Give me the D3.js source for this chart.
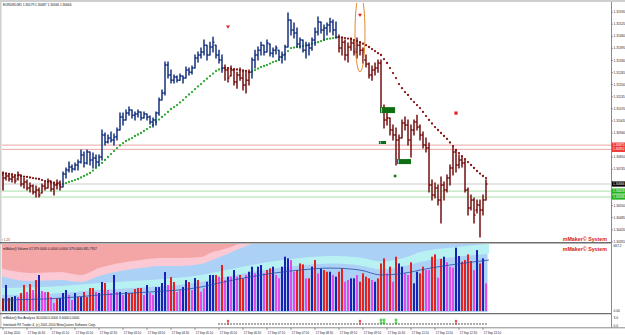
<!DOCTYPE html>
<html>
<head>
<meta charset="utf-8">
<title>EURUSD,M5</title>
<script src="https://cdn.jsdelivr.net/npm/d3@7"></script>
<style>
  body { margin: 0; background: #fff; }
  svg { display: block; font-family: "Liberation Sans", Arial, sans-serif; }
</style>
</head>
<body>
<svg id="chart" width="625" height="335"></svg>
<script>
// ---- data: EURUSD M5, 16 Sep 23:50 .. 17 Sep 13:25 (162 bars) ----
const barHigh = [
  1.30730,1.30725,1.30714,1.30720,1.30709,1.30730,1.30714,1.30698,1.30687,1.30671,
  1.30661,1.30655,1.30644,1.30666,1.30677,1.30693,1.30682,1.30677,1.30687,1.30682,
  1.30730,1.30752,1.30784,1.30768,1.30779,1.30795,1.30849,1.30838,1.30849,1.30838,
  1.30832,1.30822,1.30822,1.30956,1.30940,1.30929,1.30945,1.30934,1.30967,1.31047,
  1.31047,1.31063,1.31079,1.31063,1.31053,1.31063,1.31053,1.31053,1.31042,1.31031,
  1.31020,1.31053,1.31128,1.31171,1.31321,1.31321,1.31278,1.31251,1.31246,1.31257,
  1.31246,1.31294,1.31289,1.31300,1.31359,1.31375,1.31396,1.31439,1.31412,1.31428,
  1.31455,1.31412,1.31385,1.31359,1.31305,1.31289,1.31300,1.31278,1.31267,1.31289,
  1.31278,1.31267,1.31278,1.31343,1.31385,1.31402,1.31428,1.31412,1.31439,1.31418,
  1.31396,1.31407,1.31385,1.31375,1.31412,1.31584,1.31547,1.31531,1.31504,1.31450,
  1.31439,1.31428,1.31423,1.31450,1.31504,1.31563,1.31536,1.31520,1.31531,1.31557,
  1.31547,1.31536,1.31466,1.31450,1.31439,1.31423,1.31450,1.31439,1.31450,1.31428,
  1.31396,1.31359,1.31316,1.31300,1.31316,1.31332,1.31332,1.31090,1.31047,1.31020,
  1.30983,1.30967,1.30929,1.31010,1.31026,1.31010,1.30983,1.31010,1.31036,1.30983,
  1.30945,1.30913,1.30886,1.30687,1.30671,1.30661,1.30704,1.30677,1.30714,1.30768,
  1.30865,1.30849,1.30822,1.30811,1.30795,1.30644,1.30607,1.30591,1.30580,1.30580,
  1.30607,1.30687];
const barLow = [
  1.30634,1.30687,1.30682,1.30677,1.30671,1.30687,1.30655,1.30644,1.30634,1.30623,
  1.30612,1.30596,1.30596,1.30618,1.30634,1.30644,1.30628,1.30607,1.30639,1.30634,
  1.30650,1.30698,1.30730,1.30730,1.30741,1.30741,1.30779,1.30757,1.30773,1.30768,
  1.30752,1.30757,1.30768,1.30795,1.30875,1.30886,1.30892,1.30875,1.30902,1.30956,
  1.30983,1.31010,1.31036,1.31020,1.31010,1.31026,1.31010,1.31020,1.31010,1.30988,
  1.30972,1.30983,1.31036,1.31117,1.31144,1.31235,1.31208,1.31208,1.31214,1.31224,
  1.31208,1.31235,1.31251,1.31257,1.31289,1.31321,1.31343,1.31359,1.31332,1.31359,
  1.31375,1.31343,1.31316,1.31267,1.31224,1.31214,1.31246,1.31198,1.31181,1.31224,
  1.31171,1.31155,1.31198,1.31235,1.31289,1.31332,1.31359,1.31359,1.31375,1.31353,
  1.31348,1.31364,1.31332,1.31316,1.31332,1.31402,1.31466,1.31450,1.31402,1.31396,
  1.31375,1.31343,1.31359,1.31385,1.31412,1.31466,1.31477,1.31439,1.31466,1.31482,
  1.31466,1.31450,1.31375,1.31359,1.31332,1.31321,1.31385,1.31359,1.31343,1.31359,
  1.31316,1.31294,1.31235,1.31224,1.31251,1.31267,1.31053,1.30967,1.30983,1.30929,
  1.30902,1.30768,1.30795,1.30913,1.30956,1.30875,1.30811,1.30929,1.30956,1.30902,
  1.30859,1.30838,1.30623,1.30580,1.30591,1.30553,1.30457,1.30580,1.30623,1.30661,
  1.30714,1.30730,1.30752,1.30757,1.30623,1.30499,1.30526,1.30457,1.30510,1.30381,
  1.30499,1.30580];
const barOpen = [
  1.30714,1.30698,1.30709,1.30693,1.30704,1.30693,1.30714,1.30666,1.30677,1.30644,
  1.30655,1.30623,1.30634,1.30618,1.30655,1.30644,1.30682,1.30639,1.30661,1.30671,
  1.30650,1.30720,1.30741,1.30757,1.30747,1.30768,1.30784,1.30822,1.30779,1.30838,
  1.30795,1.30806,1.30784,1.30811,1.30929,1.30892,1.30913,1.30902,1.30918,1.30956,
  1.31026,1.31010,1.31047,1.31063,1.31036,1.31042,1.31053,1.31020,1.31042,1.31026,
  1.30999,1.31010,1.31047,1.31117,1.31155,1.31305,1.31251,1.31224,1.31241,1.31224,
  1.31246,1.31235,1.31278,1.31267,1.31289,1.31343,1.31359,1.31375,1.31412,1.31359,
  1.31402,1.31412,1.31359,1.31332,1.31289,1.31278,1.31246,1.31278,1.31214,1.31251,
  1.31235,1.31198,1.31224,1.31267,1.31332,1.31359,1.31385,1.31412,1.31375,1.31418,
  1.31369,1.31385,1.31385,1.31348,1.31359,1.31402,1.31547,1.31493,1.31477,1.31418,
  1.31439,1.31385,1.31412,1.31396,1.31439,1.31482,1.31536,1.31493,1.31504,1.31520,
  1.31536,1.31493,1.31455,1.31396,1.31428,1.31359,1.31402,1.31423,1.31375,1.31412,
  1.31385,1.31332,1.31310,1.31251,1.31278,1.31289,1.31316,1.31074,1.31010,1.31020,
  1.30956,1.30929,1.30902,1.30913,1.30994,1.30983,1.30902,1.30956,1.30999,1.30972,
  1.30929,1.30875,1.30859,1.30661,1.30607,1.30644,1.30580,1.30661,1.30634,1.30698,
  1.30752,1.30838,1.30768,1.30795,1.30779,1.30634,1.30537,1.30580,1.30526,1.30553,
  1.30526,1.30580];
const barClose = [
  1.30698,1.30709,1.30693,1.30704,1.30682,1.30714,1.30666,1.30677,1.30644,1.30655,
  1.30623,1.30634,1.30607,1.30655,1.30644,1.30682,1.30639,1.30661,1.30671,1.30650,
  1.30720,1.30741,1.30757,1.30747,1.30768,1.30784,1.30822,1.30779,1.30838,1.30795,
  1.30806,1.30784,1.30811,1.30929,1.30892,1.30913,1.30902,1.30918,1.30956,1.31026,
  1.31010,1.31047,1.31063,1.31036,1.31042,1.31053,1.31020,1.31042,1.31026,1.30999,
  1.31010,1.31047,1.31117,1.31155,1.31305,1.31251,1.31224,1.31241,1.31224,1.31246,
  1.31235,1.31278,1.31267,1.31289,1.31343,1.31359,1.31375,1.31412,1.31359,1.31402,
  1.31428,1.31359,1.31332,1.31289,1.31278,1.31235,1.31278,1.31214,1.31251,1.31235,
  1.31198,1.31224,1.31267,1.31332,1.31359,1.31385,1.31412,1.31375,1.31423,1.31369,
  1.31385,1.31396,1.31348,1.31359,1.31402,1.31547,1.31493,1.31477,1.31418,1.31439,
  1.31385,1.31412,1.31396,1.31439,1.31482,1.31536,1.31493,1.31504,1.31520,1.31536,
  1.31493,1.31455,1.31396,1.31428,1.31359,1.31402,1.31423,1.31375,1.31412,1.31385,
  1.31332,1.31310,1.31251,1.31278,1.31289,1.31316,1.31074,1.31010,1.31020,1.30956,
  1.30929,1.30902,1.30913,1.30994,1.30983,1.30902,1.30956,1.30999,1.30972,1.30929,
  1.30875,1.30859,1.30661,1.30607,1.30644,1.30580,1.30661,1.30634,1.30698,1.30752,
  1.30838,1.30768,1.30795,1.30779,1.30634,1.30537,1.30580,1.30499,1.30553,1.30526,
  1.30580,1.30666];
// trend line (dotted), one value per bar
const trendDots = [
  1.30725,1.30722,1.30720,1.30717,1.30714,1.30712,1.30709,1.30706,1.30704,1.30701,
  1.30698,1.30695,1.30693,1.30687,1.30682,1.30677,1.30674,1.30671,1.30666,1.30661,
  1.30666,1.30671,1.30677,1.30682,1.30687,1.30693,1.30701,1.30709,1.30717,1.30725,
  1.30738,1.30752,1.30765,1.30779,1.30795,1.30811,1.30827,1.30843,1.30859,1.30873,
  1.30886,1.30897,1.30905,1.30913,1.30924,1.30932,1.30940,1.30951,1.30961,1.30972,
  1.30983,1.30999,1.31012,1.31026,1.31039,1.31053,1.31069,1.31079,1.31090,1.31104,
  1.31117,1.31133,1.31147,1.31160,1.31176,1.31190,1.31203,1.31219,1.31232,1.31246,
  1.31259,1.31273,1.31281,1.31286,1.31289,1.31289,1.31286,1.31283,1.31281,1.31278,
  1.31275,1.31273,1.31267,1.31273,1.31278,1.31286,1.31294,1.31300,1.31305,1.31313,
  1.31321,1.31326,1.31332,1.31348,1.31364,1.31380,1.31396,1.31399,1.31402,1.31404,
  1.31407,1.31410,1.31412,1.31418,1.31423,1.31428,1.31434,1.31439,1.31445,1.31447,
  1.31450,1.31453,1.31455,1.31453,1.31450,1.31447,1.31445,1.31439,1.31434,1.31428,
  1.31420,1.31412,1.31402,1.31391,1.31380,1.31369,1.31359,1.31337,1.31316,1.31289,
  1.31262,1.31235,1.31203,1.31181,1.31160,1.31144,1.31122,1.31106,1.31090,1.31074,
  1.31053,1.31031,1.31010,1.30991,1.30972,1.30956,1.30940,1.30924,1.30908,1.30889,
  1.30870,1.30849,1.30832,1.30816,1.30800,1.30784,1.30768,1.30752,1.30736,1.30722,
  1.30709,1.30698];
// trend runs: [first bar, direction]
const trendRuns = [[0, "down"], [20, "up"], [74, "down"], [83, "up"], [112, "down"]];

const volume = [
  128,263,131,141,150,141,182,263,192,272, 212,313,364,202,192,192,141,81,131,131,
  182,212,162,111,182,141,141,192,141,232, 232,192,182,293,283,212,182,364,192,192,
  162,192,182,182,222,232,232,162,263,182, 162,242,242,283,394,263,343,293,192,212,
  242,313,293,212,333,313,195,229,296,364, 364,364,347,465,313,347,347,414,347,364,
  330,364,397,448,381,448,465,381,414,431, 448,364,330,448,549,532,515,397,414,481,
  471,330,330,448,515,381,431,414,397,397, 364,347,397,431,296,313,330,330,364,296,
  381,347,330,313,296,330,481,532,381,448, 296,549,481,448,381,364,492,280,397,381,
  448,414,414,549,572,337,527,549,492,448, 438,640,556,498,515,572,505,414,616,481,
  532,280];
const volumeType = (
  "dbdkbmrrmr" + "mrbmmrmmrb" + "bbmmbrbrrr" + "rmbbrmmbmb" + "mbrrrrrmbm" +
  "mbbbbmrrmm" + "bbrmbrmmbb" + "brmrmbmbmr" + "rmbbmbbmrr" + "bmmbbbmmrr" +
  "rmrbrmbrrb" + "mbrrmmbbmr" + "rrrmbrrrmr" + "mrbbmmrbbr" + "rmmrrmrbmm" +
  "mbbrrrrmbr" + "bm").split("");

// volume bands: [bar, volume] knots
const salmonEdge = [[-1,434],[9,384],[19,394],[26,364],[32,434],[39,485],[46,515],[52,535],[59,535],[66,545],[69,586],[75,636],[80,700]];
const pinkEdge   = [[-1,354],[9,303],[19,313],[26,293],[32,354],[39,404],[46,434],[52,455],[59,455],[66,475],[69,505],[74,566],[82,667],[86,700]];
const aquaHigh   = [[-1,232],[20,252],[32,283],[49,313],[66,364],[72,400],[82,460],[99,535],[109,555],[119,540],[126,500],[136,560],[139,596],[149,640],[162,680]];
const aquaLow    = [[-1,162],[20,182],[32,212],[49,242],[66,293],[72,330],[82,390],[99,460],[109,480],[119,460],[126,420],[136,470],[139,495],[149,540],[162,580]];
const volumeAvg  = [[-1,111],[20,131],[32,162],[49,192],[66,242],[72,283],[82,343],[99,414],[109,434],[119,414],[126,364],[136,394],[139,414],[149,465],[162,515]];

const priceTicks = ["1.31590","1.31525","1.31460","1.31395","1.31330","1.31265","1.31200","1.31135","1.31070","1.31005",
                    "1.30940","1.30875","1.30810","1.30745","1.30680","1.30615","1.30550","1.30485","1.30420","1.30355"];
const resistanceLevels = [1.30875, 1.30852];
const supportLevels = [1.30628, 1.30596];

const timeLabelBars = [0,8,16,24,32,40,48,56,64,72,80,88,96,104,112,120,128,136,144,152,160];
const timeLabels = ["16 Sep 2010","17 Sep 00:30","17 Sep 01:10","17 Sep 01:50","17 Sep 02:30","17 Sep 03:10","17 Sep 03:50",
                    "17 Sep 04:30","17 Sep 05:10","17 Sep 05:50","17 Sep 06:30","17 Sep 07:10","17 Sep 07:50","17 Sep 08:30",
                    "17 Sep 09:10","17 Sep 09:50","17 Sep 10:30","17 Sep 11:10","17 Sep 11:50","17 Sep 12:30","17 Sep 13:10"];

// signals
const sellArrows = [[75, 1.31510], [119, 1.31573]];
const sellSquares = [[151, 1.31047]];
const buyZones = [[125.7, 130.7, 1.31079, 1.31047], [125.3, 127.7, 1.30897, 1.30881], [131.3, 136, 1.30800, 1.30773]];
const buyDots = [[130.7, 1.30709]];
const circled = [119, 1.31690, 1.31268];
const analysisStart = 72;
const analysisRed = [75, 119, 151];
const analysisGreen = [126, 127, 131];

// ---- layout ----
const width = 625, height = 335, axisX = 611;
const main = { top: 3, bottom: 242 };
const vol = { top: 244, bottom: 312 };

const x = d3.scaleLinear().domain([0, 161]).range([3, 486]);
const y = d3.scaleLinear().domain([1.31590, 1.30420]).range([12, 229.8]);
const yv = d3.scaleLinear().domain([0, 667.2]).range([311, 245]);

const colours = { up: "#17327f", down: "#731010", dotUp: "#2aa82a", dotDown: "#8a1010" };
const volColours = { r: "#e42222", b: "#1a22b4", m: "#e54ae6", d: "#a3191b", k: "#222" };

function trendAt(i) {
  let t = trendRuns[0][1];
  trendRuns.forEach(function(r) { if (i >= r[0]) t = r[1]; });
  return t;
}

const svg = d3.select("#chart");
svg.append("rect").attr("width", width).attr("height", height).attr("fill", "#fff");
const defs = svg.append("defs");
defs.append("clipPath").attr("id", "clipMain")
  .append("rect").attr("x", 2).attr("y", main.top).attr("width", axisX - 2).attr("height", main.bottom - main.top);
defs.append("clipPath").attr("id", "clipVol")
  .append("rect").attr("x", 2).attr("y", vol.top).attr("width", axisX - 2).attr("height", vol.bottom - vol.top);

// frame
svg.append("rect").attr("x", 0).attr("y", 0).attr("width", width).attr("height", 2).attr("fill", "#cfcfcf");
svg.append("rect").attr("x", 0).attr("y", 0).attr("width", 1.5).attr("height", 328).attr("fill", "#d0d0d0");

// ---- volume panel ----
const gv = svg.append("g").attr("clip-path", "url(#clipVol)");
gv.append("rect").attr("x", 2).attr("y", vol.top).attr("width", x(161.5) - 2).attr("height", vol.bottom - vol.top)
  .attr("fill", "#abd1f6");
const curve = d3.curveMonotoneX;
gv.append("path").datum(pinkEdge)
  .attr("d", d3.area().curve(curve).x(d => x(d[0])).y0(vol.top).y1(d => yv(d[1])))
  .attr("fill", "#fbc9d3");
gv.append("path").datum(salmonEdge)
  .attr("d", d3.area().curve(curve).x(d => x(d[0])).y0(vol.top).y1(d => yv(d[1])))
  .attr("fill", "#f4a5a6");
gv.append("path").datum(aquaHigh.map((d, k) => [d[0], d[1], aquaLow[k][1]]))
  .attr("d", d3.area().curve(curve).x(d => x(d[0])).y0(d => yv(d[2])).y1(d => yv(d[1])))
  .attr("fill", "#b8f1f2");
gv.selectAll(".vbar").data(volume).enter().append("rect")
  .attr("x", (d, i) => x(i) - 1).attr("width", 2)
  .attr("y", d => yv(d)).attr("height", d => yv(0) - yv(d))
  .attr("fill", (d, i) => volColours[volumeType[i]]);
gv.append("path").datum(volumeAvg)
  .attr("d", d3.line().curve(curve).x(d => x(d[0])).y(d => yv(d[1])))
  .attr("fill", "none").attr("stroke", "#2b4aa6").attr("stroke-width", 0.8);

// ---- main panel ----
const gm = svg.append("g").attr("clip-path", "url(#clipMain)");
resistanceLevels.forEach(function(p) {
  gm.append("line").attr("x1", 2).attr("x2", axisX).attr("y1", y(p)).attr("y2", y(p))
    .attr("stroke", "#e58f8f").attr("stroke-width", 0.8);
});
supportLevels.forEach(function(p) {
  gm.append("line").attr("x1", 2).attr("x2", axisX).attr("y1", y(p)).attr("y2", y(p))
    .attr("stroke", "#8fd88f").attr("stroke-width", 0.8);
});
gm.append("line").attr("x1", 2).attr("x2", axisX)
  .attr("y1", y(barClose[161])).attr("y2", y(barClose[161]))
  .attr("stroke", "#c4c4c4").attr("stroke-width", 0.9);

// dotted trend line
gm.selectAll(".dot").data(trendDots).enter().append("circle")
  .attr("cx", (d, i) => x(i)).attr("cy", d => y(d)).attr("r", 1.15)
  .attr("fill", (d, i) => trendAt(i) == "up" ? colours.dotUp : colours.dotDown);

// OHLC bars
gm.selectAll(".bar").data(barHigh).enter().append("path")
  .attr("d", function(d, i) {
    let xi = x(i);
    return "M" + xi + "," + (y(barHigh[i]) - 0.5) + "V" + (y(barLow[i]) + 0.5) +
      "M" + (xi - 1.5) + "," + y(barOpen[i]) + "H" + xi +
      "M" + xi + "," + y(barClose[i]) + "H" + (xi + 1.5);
  })
  .attr("fill", "none").attr("stroke-width", 1.5)
  .attr("stroke", (d, i) => trendAt(i) == "up" ? colours.up : colours.down);

// signals
sellArrows.forEach(function(s) {
  let cx = x(s[0]), cy = y(s[1]);
  gm.append("path").attr("d", "M" + (cx - 2) + "," + (cy - 1.5) + "H" + (cx + 2) + "L" + cx + "," + (cy + 1.8) + "Z")
    .attr("fill", "#e02222");
});
sellSquares.forEach(function(s) {
  gm.append("rect").attr("x", x(s[0]) - 1.6).attr("y", y(s[1]) - 1.6).attr("width", 3.2).attr("height", 3.2)
    .attr("fill", "#e02222");
});
buyZones.forEach(function(z) {
  gm.append("rect").attr("x", x(z[0])).attr("y", y(z[2])).attr("width", x(z[1]) - x(z[0]))
    .attr("height", y(z[3]) - y(z[2])).attr("fill", "#0d6e12");
  gm.append("rect").attr("x", x(z[0]) + 1).attr("y", y(z[2]) + 0.5).attr("width", 1)
    .attr("height", y(z[3]) - y(z[2]) - 1).attr("fill", "#9fd8f0");
});
buyDots.forEach(function(s) {
  gm.append("rect").attr("x", x(s[0]) - 1.3).attr("y", y(s[1]) - 1.3).attr("width", 2.6).attr("height", 2.6)
    .attr("fill", "#0d7a12");
});
gm.append("ellipse").attr("cx", x(circled[0])).attr("cy", (y(circled[1]) + y(circled[2])) / 2)
  .attr("rx", 5).attr("ry", (y(circled[2]) - y(circled[1])) / 2)
  .attr("fill", "none").attr("stroke", "#e8892f").attr("stroke-width", 1);

// ---- bar analysis row ----
const ga = svg.append("g");
d3.range(analysisStart, 162).forEach(function(i) {
  ga.append("path").attr("d", "M" + (x(i) - 0.8) + ",324H" + (x(i) + 0.8) + "M" + x(i) + ",323.2V324.8")
    .attr("stroke", "#3a3a3a").attr("stroke-width", 0.6);
});
analysisRed.forEach(function(i) {
  ga.append("path").attr("d", "M" + (x(i) - 1.2) + ",321H" + (x(i) + 1.2) + "M" + x(i) + ",319.8V325")
    .attr("stroke", "#d42020").attr("stroke-width", 1);
});
analysisGreen.forEach(function(i) {
  ga.append("path").attr("d", "M" + (x(i) - 1.5) + ",320H" + (x(i) + 1.5) + "M" + x(i) + ",318.5V324.5" +
      "M" + (x(i) - 1.5) + ",323H" + (x(i) + 1.5))
    .attr("stroke", "#29c429").attr("stroke-width", 1.1);
});

// ---- separators and axes ----
svg.append("line").attr("x1", 0).attr("x2", axisX).attr("y1", 242.8).attr("y2", 242.8).attr("stroke", "#6e6e6e").attr("stroke-width", 1.4);
svg.append("line").attr("x1", 0).attr("x2", axisX).attr("y1", 313.6).attr("y2", 313.6).attr("stroke", "#6e6e6e").attr("stroke-width", 1.4);
svg.append("line").attr("x1", 0).attr("x2", width).attr("y1", 327.8).attr("y2", 327.8).attr("stroke", "#8a8a8a").attr("stroke-width", 1);
svg.append("line").attr("x1", axisX + 0.5).attr("x2", axisX + 0.5).attr("y1", 2).attr("y2", 328).attr("stroke", "#8a8a8a").attr("stroke-width", 1);

const small = 3.2;
const tagLevels = resistanceLevels.concat([barClose[161]], supportLevels);
const gAxis = svg.append("g").attr("font-size", small).attr("fill", "#222");
priceTicks.forEach(function(t) {
  let ty = y(+t);
  gAxis.append("line").attr("x1", axisX).attr("x2", axisX + 2).attr("y1", ty).attr("y2", ty).attr("stroke", "#666").attr("stroke-width", 0.6);
  // labels hidden behind a price tag are not printed
  if (tagLevels.some(p => Math.abs(y(p) - ty) < 5.5)) return;
  gAxis.append("text").attr("x", axisX + 2.5).attr("y", ty + 1.1).text(t);
});
// price tags
function tag(p, fill) {
  let ty = y(p);
  svg.append("rect").attr("x", axisX + 1).attr("y", ty - 2.6).attr("width", 13).attr("height", 5.2).attr("fill", fill);
  svg.append("text").attr("x", axisX + 2).attr("y", ty + 1.1).attr("font-size", small).attr("fill", "#fff")
    .text(p.toFixed(5));
}
resistanceLevels.forEach(p => tag(p, "#ee3b3b"));
tag(barClose[161], "#000");
supportLevels.forEach(p => tag(p, "#21b421"));

// volume / analysis scale labels
const sideLabels = [["667.2", 247], ["0.00", 311.5], ["3.0", 318.5], ["0.0", 327]];
sideLabels.forEach(function(s) {
  gAxis.append("text").attr("x", axisX + 2.5).attr("y", s[1]).text(s[0]);
});

// time axis
timeLabelBars.forEach(function(b, k) {
  svg.append("line").attr("x1", x(b)).attr("x2", x(b)).attr("y1", 327.8).attr("y2", 330).attr("stroke", "#555").attr("stroke-width", 0.6);
  svg.append("text").attr("x", x(b) + 0.8).attr("y", 333.8).attr("font-size", 2.9).attr("fill", "#222").text(timeLabels[k]);
});

// ---- texts ----
svg.append("text").attr("x", 3).attr("y", 6).attr("font-size", small).attr("fill", "#111")
  .text("EURUSD,M5  1.30579 1.30687 1.30566 1.30666");
svg.append("text").attr("x", 2).attr("y", 240.5).attr("font-size", 3).attr("fill", "#555").text("r 1.23");
svg.append("text").attr("x", 3).attr("y", 249.5).attr("font-size", small).attr("fill", "#111")
  .text("mMaker() Volume V2 379.0000 0.0000 0.0000 379.0000 681.7957");
svg.append("text").attr("x", 3).attr("y", 319).attr("font-size", small).attr("fill", "#111")
  .text("mMaker() Bar Analysis 30.0000 0.0000 3.0000 0.0000");
svg.append("text").attr("x", 3).attr("y", 325.8).attr("font-size", small).attr("fill", "#111")
  .text("Interbank FX Trader 4, (c) 2001-2010 MetaQuotes Software Corp.");
[240.6, 250.6].forEach(function(ty) {
  svg.append("text").attr("x", 607).attr("y", ty).attr("text-anchor", "end")
    .attr("font-size", 5.3).attr("font-weight", "bold").attr("fill", "#d41818").text("mMaker\u00a9 System");
});
</script>
</body>
</html>
